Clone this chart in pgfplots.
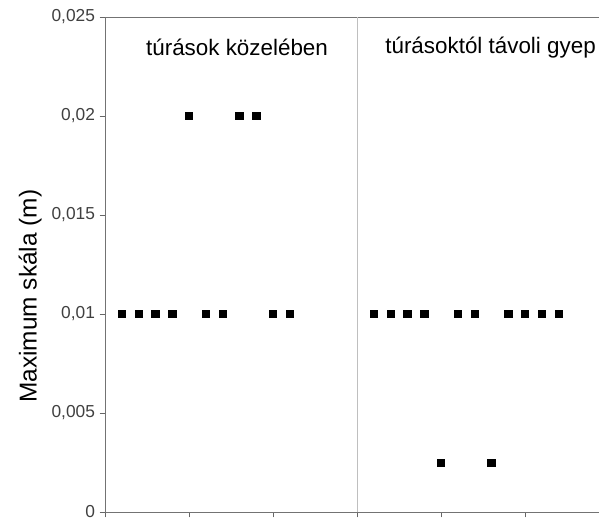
\documentclass[border=0pt]{standalone}
\usepackage{fontspec}
\setmainfont{Liberation Sans}
\usepackage{pgfplots}
\pgfplotsset{compat=1.18}
\begin{document}
\begin{tikzpicture}
\path[use as bounding box] (-78.75pt,-9.75pt) rectangle (370.5pt,384pt);
\begin{axis}[
  scale only axis,
  width=378pt, height=371.25pt,
  xmin=0, xmax=30, ymin=0, ymax=0.025,
  xtick={0,5,10,15,20,25}, xticklabels={},
  ytick={0,0.005,0.01,0.015,0.02,0.025},
  scaled y ticks=false,
  yticklabel style={/pgf/number format/.cd, use comma, fixed, precision=3, assume math mode=true},
  tick label style={font=\fontsize{13}{15}\selectfont, text=black!75},
  tick align=outside, xtick pos=bottom, ytick pos=left,
  major tick length=4pt,
  axis line style={black!55},
  tick style={black!60},
  axis x line*=bottom, axis y line*=left,
  ylabel={Maximum skála (m)},
  every axis y label/.style={at={(axis cs:-4.46,0.0109)}, rotate=90, anchor=center, font=\fontsize{18.3}{21}\selectfont},
  clip=false,
]
\draw[black!55] (rel axis cs:0,1) -- (rel axis cs:1,1);
\draw[black!25] (axis cs:15,0) -- (axis cs:15,0.025);
\addplot[only marks, mark=square*, mark size=2.8pt, black] coordinates {
(1,0.01) (2,0.01) (3,0.01) (4,0.01) (5,0.02) (6,0.01) (7,0.01) (8,0.02) (9,0.02) (10,0.01) (11,0.01)
};
\addplot[only marks, mark=square*, mark size=2.8pt, black] coordinates {
(16,0.01) (17,0.01) (18,0.01) (19,0.01) (20,0.0025) (21,0.01) (22,0.01) (23,0.0025) (24,0.01) (25,0.01) (26,0.01) (27,0.01)
};
\node[font=\fontsize{16.8}{19}\selectfont] at (axis cs:7.86,0.02348) {túrások közelében};
\node[font=\fontsize{16.8}{19}\selectfont] at (axis cs:22.95,0.02348) {túrásoktól távoli gyep};
\end{axis}
\end{tikzpicture}
\end{document}
